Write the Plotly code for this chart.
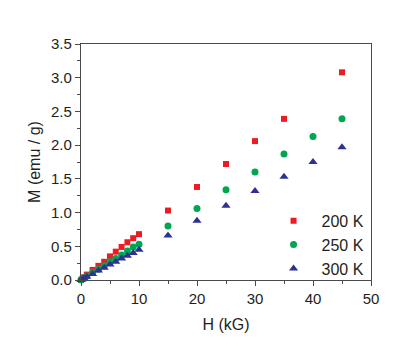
import plotly.graph_objects as go

# field in kG
h = [0, 0.25, 0.5, 1, 2, 3, 4, 5, 6, 7, 8, 9, 10, 15, 20, 25, 30, 35, 40, 45]

m_200 = [0.0, 0.02, 0.04, 0.08, 0.15, 0.21, 0.27, 0.35, 0.42, 0.49, 0.56, 0.62, 0.68,
         1.03, 1.38, 1.72, 2.06, 2.39, None, 3.08]
m_250 = [0.0, 0.015, 0.03, 0.06, 0.11, 0.16, 0.21, 0.27, 0.32, 0.37, 0.43, 0.49, 0.53,
         0.80, 1.06, 1.34, 1.60, 1.87, 2.13, 2.39]
m_300 = [0.0, 0.01, 0.025, 0.05, 0.09, 0.14, 0.18, 0.23, 0.27, 0.32, 0.36, 0.40, 0.45,
         0.66, 0.88, 1.10, 1.32, 1.53, 1.75, 1.97]

names = ["200 K", "250 K", "300 K"]
colors = ["#ed1c24", "#00a651", "#2e3192"]
symbols = ["square", "circle", "triangle-up"]
sizes = [6, 7, 8]

fig = go.Figure()
for ys, nm, c, s, sz in zip([m_200, m_250, m_300], names, colors, symbols, sizes):
    fig.add_scatter(x=h, y=ys, mode="markers", name=nm, cliponaxis=False,
                    marker=dict(color=c, symbol=s, size=sz, line=dict(width=0)))

axis_common = dict(showline=True, linecolor="#4a4a4a", linewidth=1.3, mirror=True,
                   ticks="outside", ticklen=5, tickcolor="#4a4a4a", showgrid=False,
                   zeroline=False, tickfont=dict(size=15, color="#231f20"))

fig.update_xaxes(range=[0, 50], dtick=10,
                 title=dict(text="H (kG)", font=dict(size=16, color="#231f20"), standoff=12),
                 minor=dict(ticks="outside", ticklen=3, dtick=5, tickcolor="#4a4a4a"), **axis_common)
fig.update_yaxes(range=[0, 3.5], dtick=0.5, tickformat=".1f",
                 title=dict(text="M (emu / g)", font=dict(size=16, color="#231f20"), standoff=6),
                 minor=dict(ticks="outside", ticklen=3, dtick=0.25, tickcolor="#4a4a4a"), **axis_common)

# page body adds an 8px offset, so the figure is drawn 8px smaller
fig.update_layout(
    width=407, height=352,
    margin=dict(l=73, r=44, t=36, b=80),
    plot_bgcolor="white", paper_bgcolor="white",
    font=dict(family="Liberation Sans, Arial, sans-serif", color="#231f20"),
    legend=dict(x=0.995, y=-0.025, xanchor="right", yanchor="bottom",
                bgcolor="rgba(0,0,0,0)", font=dict(size=16), itemwidth=46),
)

fig.write_html("out.html")
